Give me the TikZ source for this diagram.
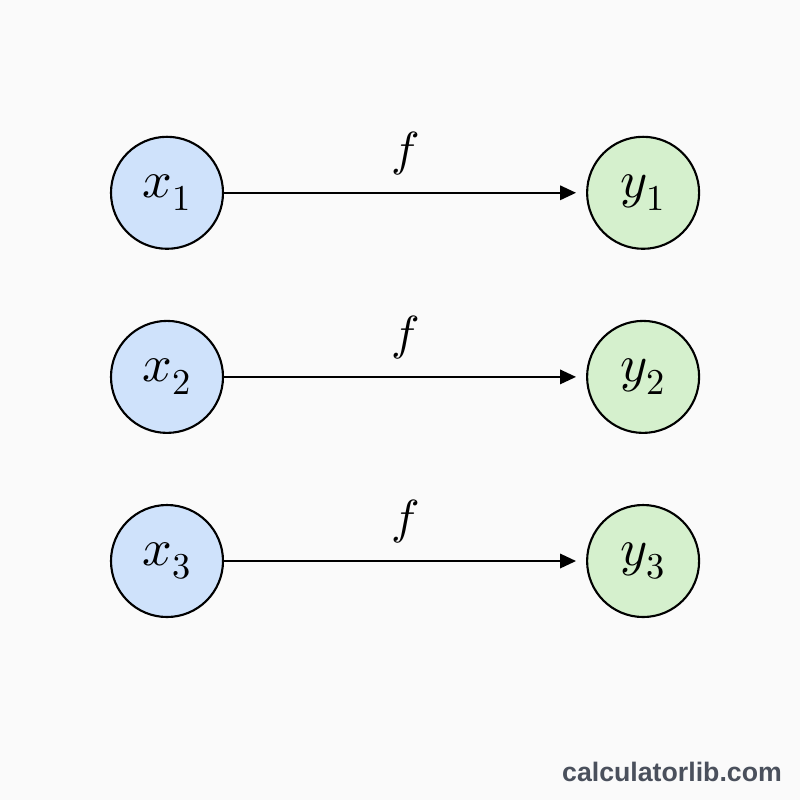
\documentclass[tikz,border=0pt]{standalone}
\usepackage{amsmath}
\usepackage{fontspec}
\usepackage{unicode-math}
\setmathfont{Latin Modern Math}
\usepackage{xcolor}
\usepackage{tikz}
\usetikzlibrary{arrows.meta}
\usetikzlibrary{positioning}
\usetikzlibrary{calc}
\definecolor{inblue}{HTML}{CFE2FB}
\definecolor{outgreen}{HTML}{D5F0CD}
\definecolor{markgray}{HTML}{4A505C}
\newfontfamily\markfont{Liberation Sans}
\tikzset{>=latex}

\begin{document}
\begin{tikzpicture}[
            font=\fontsize{37}{44}\selectfont,
            invar/.style={
                circle, draw=black, line width=1.5pt,
                minimum size=2.8cm, inner sep=0pt, fill=inblue,
            },
            outvar/.style={
                circle, draw=black, line width=1.5pt,
                minimum size=2.8cm, inner sep=0pt, fill=outgreen,
            },
            maparrow/.style={-{Triangle[length=4mm, width=3.6mm]}, line width=1.5pt, shorten >=0.25cm},
            maplabel/.style={above=0.3cm, font=\fontsize{34}{40}\selectfont},
        ]
            % --- background and page size ---
            \fill[black!2] (0,0) rectangle (20,20);
            \useasboundingbox (0,0) rectangle (20,20);

            % --- inputs (left) ---
            \node[invar] (x1) at (4.175, 15.18) {$x_1$};
            \node[invar, below=1.75cm of x1] (x2) {$x_2$};
            \node[invar, below=1.75cm of x2] (x3) {$x_3$};

            % --- outputs (right) ---
            \node[outvar, right=9.05cm of x1] (y1) {$y_1$};
            \node[outvar, right=9.05cm of x2] (y2) {$y_2$};
            \node[outvar, right=9.05cm of x3] (y3) {$y_3$};

            % --- the map f ---
            \draw[maparrow] (x1) -- node[maplabel] (f1) {$f$} (y1);
            \draw[maparrow] (x2) -- node[maplabel] (f2) {$f$} (y2);
            \draw[maparrow] (x3) -- node[maplabel] (f3) {$f$} (y3);

            % --- watermark ---
            \node[font=\markfont\bfseries\fontsize{19}{23}\selectfont, text=markgray] (mark) at (16.8, 0.7) {calculatorlib.com};
        \end{tikzpicture}
\end{document}
